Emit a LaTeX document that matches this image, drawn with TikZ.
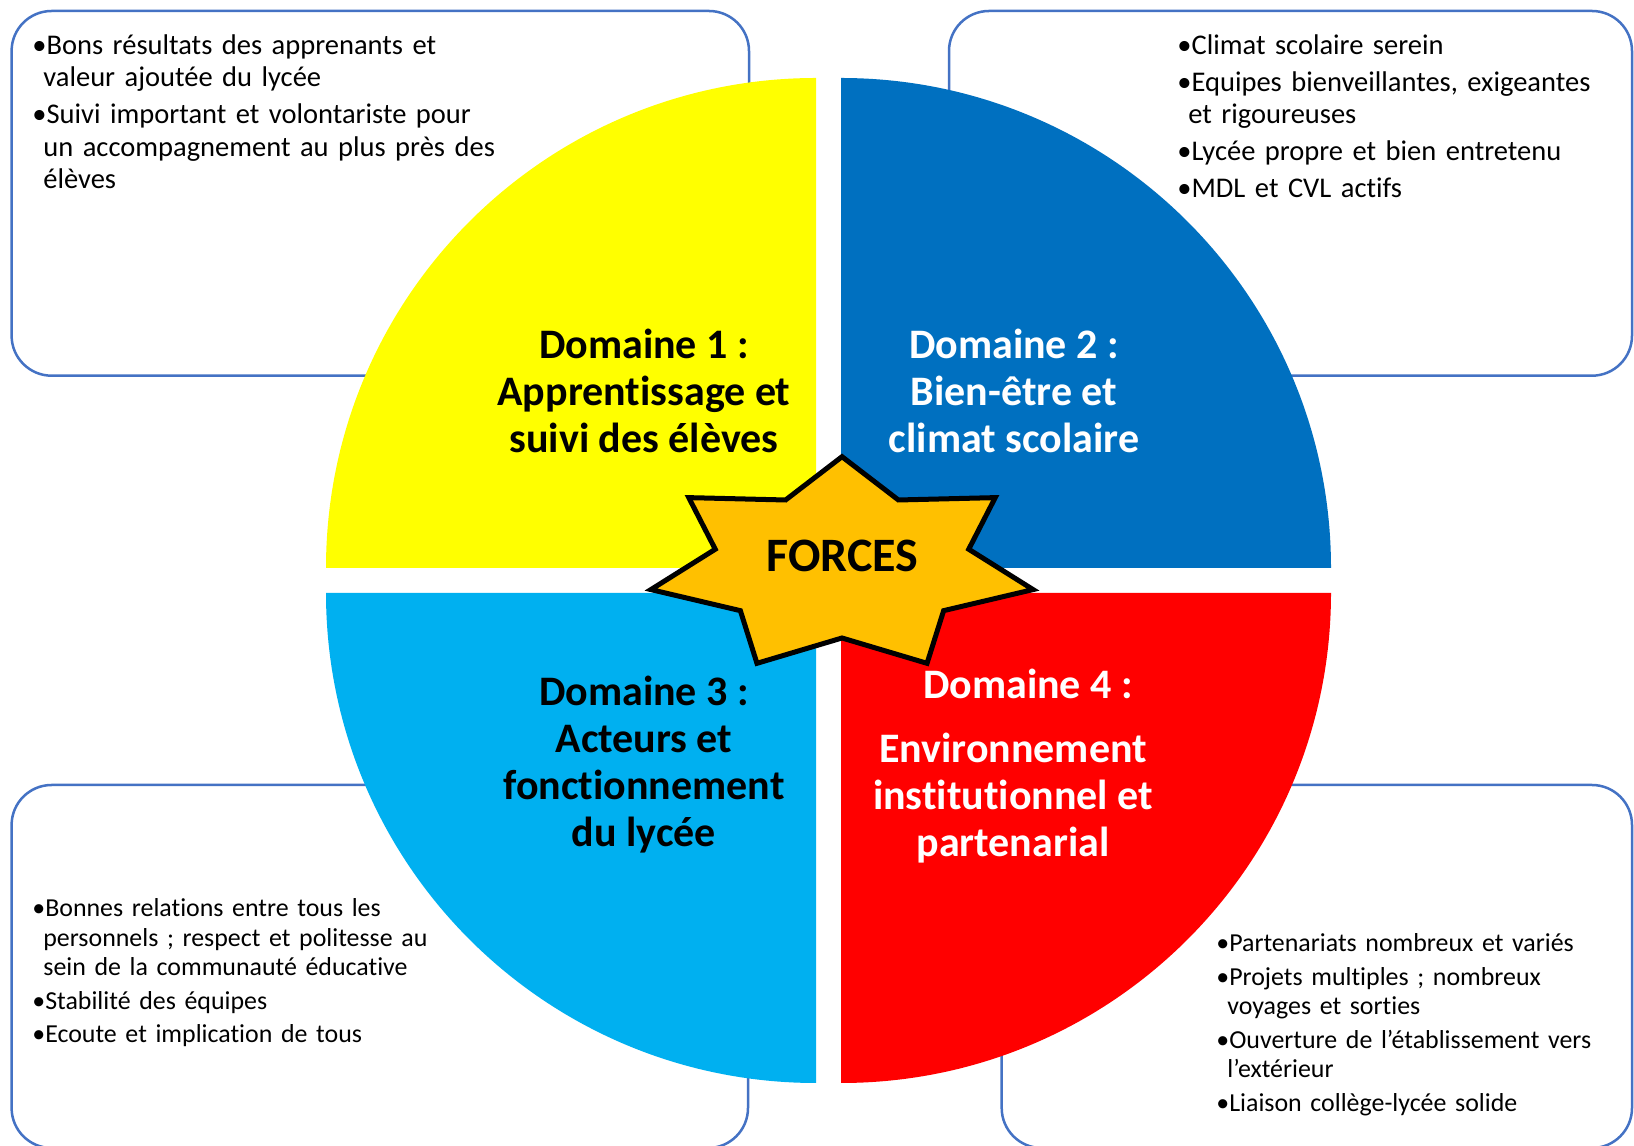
\documentclass[tikz,border=0pt]{standalone}
\usepackage{fontspec}
\setmainfont{Carlito}[Ligatures={NoCommon}]
\definecolor{jaune}{HTML}{FFFF00}
\definecolor{bleu}{HTML}{0070C0}
\definecolor{ciel}{HTML}{00B0F0}
\definecolor{rouge}{HTML}{FF0000}
\definecolor{orange}{HTML}{FFC000}
\definecolor{trait}{HTML}{4472C4}
\newcommand\puce[1]{\hangindent=5.5pt\hangafter=1\noindent\textbullet#1\par}

\begin{document}
\begin{tikzpicture}[
      x=0.5pt,y=0.5pt,
      cadre/.style={
        draw=trait,
        line width=1.25pt,
        rounded corners=20pt
      },
      liste/.style={
        anchor=base west,
        inner sep=0pt,
        text width=#1,
        align=left
      },
      listeh/.style={
        liste=240pt,
        font=\fontsize{14.25}{16.25}\selectfont,
        execute at begin node={\setlength{\parskip}{2.25pt}}
      },
      listeb/.style={
        liste=220pt,
        font=\fontsize{12.95}{14.75}\selectfont,
        execute at begin node={\setlength{\parskip}{2pt}}
      },
      domaine/.style={
        anchor=base,
        inner sep=0pt,
        align=center,
        font=\bfseries\fontsize{21}{23.5}\selectfont
      },
      etoile/.style={
        draw=black,
        fill=orange,
        line width=2.5pt,
        line join=miter
      }
    ]
    \useasboundingbox (0,0) rectangle (1634,1146);
    \fill[white] (0,0) rectangle (1634,1146);

    \draw[cadre] (11.6,770.3) rectangle (749,1135);
    \draw[cadre] (949,770.3) rectangle (1632,1135);
    \draw[cadre] (11.6,-2) rectangle (748,361);
    \draw[cadre] (1001.7,-2) rectangle (1632,361);

    \fill[jaune] (816,578) -- (816,1068) arc[start angle=90, end angle=180, radius=490] -- cycle;
    \fill[bleu]  (841,578) -- (1331,578) arc[start angle=0, end angle=90, radius=490] -- cycle;
    \fill[ciel]  (816,553) -- (326,553) arc[start angle=180, end angle=270, radius=490] -- cycle;
    \fill[rouge] (841,553) -- (841,63) arc[start angle=270, end angle=360, radius=490] -- cycle;

    \begin{scope}[shift={(842,580.6)}]
      \draw[etoile] (90:196 and 108.7)
        \foreach \k in {1,...,6}{
          -- ({90+(2*\k-1)*180/7}:130 and 72.6) -- ({90+2*\k*180/7}:196 and 108.7)
        } -- ({90+13*180/7}:130 and 72.6) -- cycle;
    \end{scope}

    \node[listeh] (forces1) at (32,1091.5) {%
      \puce{Bons résultats des apprenants et\newline valeur ajoutée du lycée}
      \puce{Suivi important et volontariste pour\newline un accompagnement au plus près des\newline élèves}};
    \node[listeh] (forces2) at (1177,1091.7) {%
      \puce{Climat scolaire serein}
      \puce{Equipes bienveillantes, exigeantes\newline et rigoureuses}
      \puce{Lycée propre et bien entretenu}
      \puce{MDL et CVL actifs}};
    \node[listeb] (forces3) at (32,229.3) {%
      \puce{Bonnes relations entre tous les\newline personnels ; respect et politesse au\newline sein de la communauté éducative}
      \puce{Stabilité des équipes}
      \puce{Ecoute et implication de tous}};
    \node[listeb] (forces4) at (1216,194.3) {%
      \puce{Partenariats nombreux et variés}
      \puce{Projets multiples ; nombreux\newline voyages et sorties}
      \puce{Ouverture de l’établissement vers\newline l’extérieur}
      \puce{Liaison collège-lycée solide}};

    \node[domaine] (dom1) at (644,693) {Domaine 1 :\\ Apprentissage et\\ suivi des élèves};
    \node[domaine, text=white] (dom2) at (1014,693) {Domaine 2 :\\ Bien-être et\\ climat scolaire};
    \node[domaine] (dom3) at (644,299.3) {Domaine 3 :\\ Acteurs et\\ fonctionnement\\ du lycée};
    \node[domaine, text=white] (dom4) at (1028,447.3) {Domaine 4 :};
    \node[domaine, text=white] (dom4b) at (1013,289.3) {Environnement\\ institutionnel et\\ partenarial};

    \node[domaine, font=\bfseries\fontsize{24}{26}\selectfont] (forces) at (842.5,574.3) {FORCES};
  \end{tikzpicture}
\end{document}
